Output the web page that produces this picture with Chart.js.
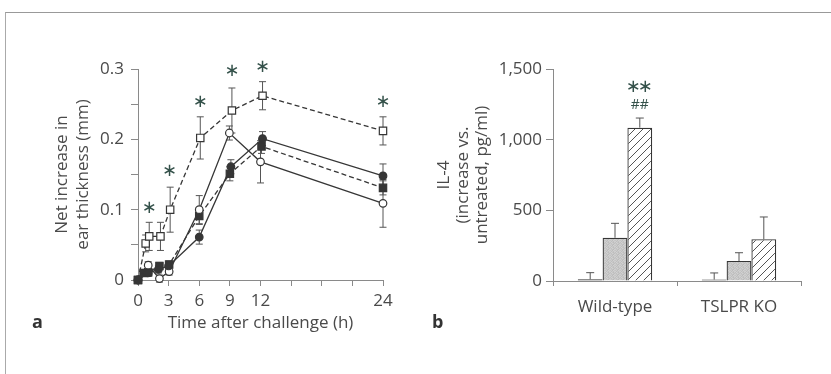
<!DOCTYPE html>
<html>
<head>
<meta charset="utf-8">
<script src="https://cdn.jsdelivr.net/npm/chart.js@4.4.1/dist/chart.umd.min.js"></script>
<style>
  body { margin: 0; background: #fff; width: 831px; height: 374px; position: relative; overflow: hidden; font-family: "Open Sans", sans-serif; }
  #frame { position: absolute; left: 5px; top: 12px; width: 830px; height: 370px; border-top: 1px solid #999; border-left: 1px solid #aaa; }
  canvas { position: absolute; top: 0; }
  #chart-a { left: 0; }
  #chart-b { left: 420px; }
  .panel { position: absolute; font-weight: bold; font-size: 18px; color: #333; }
</style>
</head>
<body>
<div id="frame"></div>
<canvas id="chart-a" width="420" height="374"></canvas>
<canvas id="chart-b" width="411" height="374"></canvas>
<div class="panel" style="left:32px;top:309px">a</div>
<div class="panel" style="left:432px;top:309px">b</div>
<script>
// Panel a: net increase in ear thickness (mm) vs time after challenge (h)
const openSqX = [0, 0.75, 1.1, 2.2, 3.15, 6.1, 9.2, 12.2, 24];
const openSqY = [0, 0.052, 0.062, 0.062, 0.10, 0.202, 0.241, 0.262, 0.212];
const openSqErr = [0, 0.012, 0.02, 0.02, 0.032, 0.03, 0.032, 0.02, 0.02];

const fillSqX = [0, 0.55, 1, 2.1, 3.05, 6, 9, 12.1, 24];
const fillSqY = [0, 0.01, 0.011, 0.02, 0.022, 0.091, 0.151, 0.19, 0.131];
const fillSqErr = [0, 0.005, 0.005, 0.005, 0.005, 0.012, 0.01, 0.01, 0.01];

const openCirX = [0, 1, 2.1, 3.05, 6, 8.95, 12, 24];
const openCirY = [0, 0.021, 0.002, 0.012, 0.10, 0.209, 0.168, 0.109];
const openCirErr = [0, 0.005, 0.005, 0.005, 0.02, 0.01, 0.03, 0.034];

const fillCirX = [0, 1, 2, 3, 6, 9.1, 12.2, 24];
const fillCirY = [0, 0.01, 0.015, 0.02, 0.061, 0.161, 0.201, 0.148];
const fillCirErr = [0, 0.005, 0.005, 0.005, 0.01, 0.01, 0.01, 0.017];

// significance stars above the open-square series
const starTimes = [1.1, 3.1, 6.1, 9.2, 12.2, 24];
const starLevels = [0.102, 0.154, 0.252, 0.296, 0.303, 0.253];

const xTicksA = [0, 3, 6, 9, 12, 24];

// Panel b: IL-4 (increase vs untreated, pg/ml)
const groupsB = ["Wild-type", "TSLPR KO"];
const darkVals = [12, 10];
const darkErr = [47, 47];
const dotVals = [306, 141];
const dotErr = [102, 59];
const hatchVals = [1085, 295];
const hatchErr = [68, 158];
const sigMarksB = ["\u2217\u2217", "##"];
const sigLevelsB = [1372, 1245];

const ink = "#363636";
const axisCol = "#8a8a8a";
const textCol = "#4a4a4a";
const starCol = "#34514a";
const font = "'Open Sans', sans-serif";

function pts(xs, ys) { return xs.map((x, i) => ({ x, y: ys[i] })); }

// error bars drawn behind the markers
const errBarsA = {
  id: "errBarsA",
  beforeDatasetsDraw(chart) {
    const { ctx, scales: { x, y } } = chart;
    ctx.save();
    ctx.strokeStyle = "#555";
    ctx.lineWidth = 1;
    chart.data.datasets.forEach(ds => {
      ds.data.forEach((p, i) => {
        const e = ds.errors[i];
        if (!e) return;
        const px = x.getPixelForValue(p.x);
        const top = y.getPixelForValue(p.y + e);
        const bot = y.getPixelForValue(p.y - e);
        ctx.beginPath();
        ctx.moveTo(px, top); ctx.lineTo(px, bot);
        ctx.moveTo(px - 3.5, top); ctx.lineTo(px + 3.5, top);
        ctx.moveTo(px - 3.5, bot); ctx.lineTo(px + 3.5, bot);
        ctx.stroke();
      });
    });
    ctx.restore();
  },
  afterDatasetsDraw(chart) {
    const { ctx, scales: { x, y } } = chart;
    ctx.save();
    ctx.fillStyle = starCol;
    ctx.font = "18px 'DejaVu Sans'";
    ctx.textAlign = "center";
    ctx.textBaseline = "middle";
    starTimes.forEach((t, i) => {
      ctx.fillText("\u2217", x.getPixelForValue(t), y.getPixelForValue(starLevels[i]));
    });
    ctx.restore();
  }
};

const lineStyle = (label, xs, ys, errs, shape, filled, dashed) => ({
  label,
  data: pts(xs, ys),
  errors: errs,
  borderColor: ink,
  borderWidth: 1.3,
  borderDash: dashed ? [5, 3] : [],
  pointStyle: shape,
  pointRadius: shape === "rect" ? 5.2 : 3.8,
  pointBorderWidth: 1.2,
  pointBorderColor: ink,
  pointBackgroundColor: filled ? ink : "#fff",
  clip: false
});

new Chart(document.getElementById("chart-a"), {
  type: "line",
  data: {
    datasets: [
      lineStyle("filled circle", fillCirX, fillCirY, fillCirErr, "circle", true, false),
      lineStyle("open circle", openCirX, openCirY, openCirErr, "circle", false, false),
      lineStyle("filled square", fillSqX, fillSqY, fillSqErr, "rect", true, true),
      lineStyle("open square", openSqX, openSqY, openSqErr, "rect", false, true)
    ]
  },
  options: {
    responsive: false,
    animation: false,
    devicePixelRatio: 1,
    layout: { padding: { top: 69, right: 37, left: 0, bottom: 0 } },
    plugins: { legend: { display: false }, tooltip: { enabled: false } },
    scales: {
      x: {
        type: "linear",
        min: 0, max: 24,
        afterFit: s => { s.height = 94; },
        border: { color: axisCol, width: 1 },
        grid: { drawOnChartArea: false, tickLength: 6, color: axisCol },
        ticks: {
          stepSize: 3, padding: 5, color: textCol, font: { family: font, size: 17 },
          maxRotation: 0, autoSkip: false,
          callback: v => xTicksA.includes(v) ? String(v) : ""
        },
        title: { display: true, text: "Time after challenge (h)", color: textCol, font: { family: font, size: 17 }, padding: { bottom: 41 } }
      },
      y: {
        min: 0, max: 0.3,
        afterFit: s => { s.width = 138; },
        border: { color: axisCol, width: 1 },
        grid: { drawOnChartArea: false, tickLength: 7, color: axisCol },
        ticks: {
          stepSize: 0.05, padding: 7, color: textCol, font: { family: font, size: 17 },
          callback: v => {
            const r = Math.round(v * 100);
            if (r % 10 !== 0) return "";
            return r === 0 ? "0" : (r / 100).toFixed(1);
          }
        },
        title: { display: true, text: ["Net increase in", "ear thickness (mm)"], color: textCol, font: { family: font, size: 17, lineHeight: 1.24 }, padding: { top: 52 } }
      }
    }
  },
  plugins: [errBarsA]
});

// fill patterns for panel b
function stipple() {
  const c = document.createElement("canvas");
  c.width = 5; c.height = 5;
  const g = c.getContext("2d");
  const shades = ["#c4c4c4", "#cdcdcd", "#bcbcbc", "#d2d2d2", "#c8c8c8",
                  "#d0d0d0", "#bebebe", "#cbcbcb", "#c2c2c2", "#cfcfcf",
                  "#c0c0c0", "#d3d3d3", "#c6c6c6", "#bdbdbd", "#cccccc",
                  "#cacaca", "#c1c1c1", "#d1d1d1", "#c7c7c7", "#bfbfbf",
                  "#cecece", "#c5c5c5", "#c3c3c3", "#bbbbbb", "#d0d0d0"];
  shades.forEach((s, i) => { g.fillStyle = s; g.fillRect(i % 5, Math.floor(i / 5), 1, 1); });
  return g.createPattern(c, "repeat");
}
function hatch() {
  const c = document.createElement("canvas");
  c.width = 8; c.height = 8;
  const g = c.getContext("2d");
  g.fillStyle = "#fff"; g.fillRect(0, 0, 8, 8);
  g.strokeStyle = "#555"; g.lineWidth = 1;
  g.beginPath();
  g.moveTo(0, 8); g.lineTo(8, 0);
  g.moveTo(-1, 1); g.lineTo(1, -1);
  g.moveTo(7, 9); g.lineTo(9, 7);
  g.stroke();
  return g.createPattern(c, "repeat");
}

const errBarsB = {
  id: "errBarsB",
  afterDatasetsDraw(chart) {
    const { ctx, scales: { y } } = chart;
    ctx.save();
    ctx.strokeStyle = "#555";
    ctx.lineWidth = 1;
    chart.data.datasets.forEach((ds, di) => {
      const meta = chart.getDatasetMeta(di);
      ds.data.forEach((v, i) => {
        const bar = meta.data[i];
        const top = y.getPixelForValue(v + ds.errors[i]);
        ctx.beginPath();
        ctx.moveTo(bar.x, bar.y); ctx.lineTo(bar.x, top);
        ctx.moveTo(bar.x - 4, top); ctx.lineTo(bar.x + 4, top);
        ctx.stroke();
      });
    });
    // significance marks above the wild-type hatched bar
    const hb = chart.getDatasetMeta(2).data[0];
    ctx.fillStyle = starCol;
    ctx.textAlign = "center";
    ctx.textBaseline = "middle";
    sigMarksB.forEach((m, i) => {
      ctx.font = i === 0 ? "18px 'DejaVu Sans'" : "14px " + font;
      ctx.letterSpacing = i === 0 ? "-3px" : "0px";
      ctx.fillText(m, hb.x - (i === 0 ? 2 : 0), y.getPixelForValue(sigLevelsB[i]));
    });
    ctx.restore();
  }
};

const barBase = { borderColor: ink, borderWidth: 1.3, categoryPercentage: 0.6, barPercentage: 1.0 };

new Chart(document.getElementById("chart-b"), {
  type: "bar",
  data: {
    labels: groupsB,
    datasets: [
      { ...barBase, label: "dark", data: darkVals, errors: darkErr, backgroundColor: "#333" },
      { ...barBase, label: "dotted", data: dotVals, errors: dotErr, backgroundColor: stipple() },
      { ...barBase, label: "hatched", data: hatchVals, errors: hatchErr, backgroundColor: hatch() }
    ]
  },
  options: {
    responsive: false,
    animation: false,
    devicePixelRatio: 1,
    layout: { padding: { top: 69, right: 30, left: 0, bottom: 0 } },
    plugins: { legend: { display: false }, tooltip: { enabled: false } },
    scales: {
      x: {
        afterFit: s => { s.height = 93; },
        border: { color: axisCol, width: 1 },
        grid: { drawOnChartArea: false, tickLength: 5, color: axisCol, offset: true },
        ticks: { padding: 11, color: textCol, font: { family: font, size: 17 } }
      },
      y: {
        min: 0, max: 1500,
        afterFit: s => { s.width = 133; },
        border: { color: axisCol, width: 1 },
        grid: { drawOnChartArea: false, tickLength: 7, color: axisCol },
        ticks: {
          stepSize: 500, padding: 4, color: textCol, font: { family: font, size: 17 },
          callback: v => v.toLocaleString("en-US")
        },
        title: { display: true, text: ["IL-4", "(increase vs.", "untreated, pg/ml)"], color: textCol, font: { family: font, size: 17, lineHeight: 1.1 }, padding: { top: 15 } }
      }
    }
  },
  plugins: [errBarsB]
});
</script>
</body>
</html>
